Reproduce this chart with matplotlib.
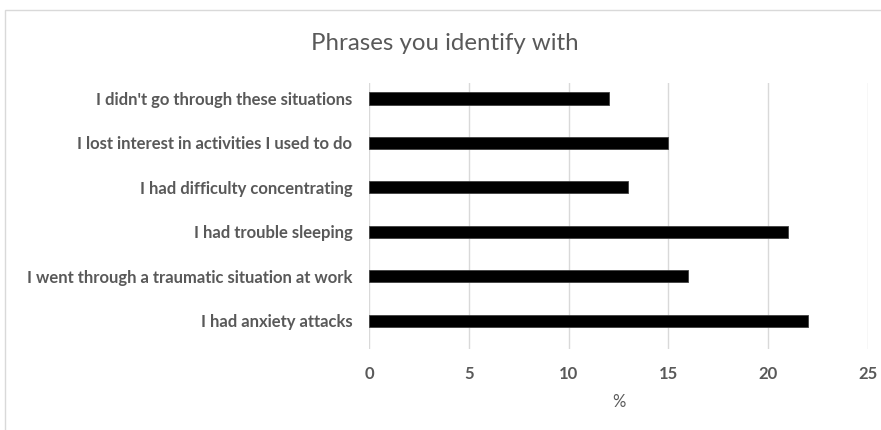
import matplotlib
matplotlib.use("Agg")
import matplotlib.pyplot as plt
from matplotlib.patches import Rectangle

categories = [
    "I had anxiety attacks",
    "I went through a traumatic situation at work",
    "I had trouble sleeping",
    "I had difficulty concentrating",
    "I lost interest in activities I used to do",
    "I didn't go through these situations",
]
values = [22, 16, 21, 13, 15, 12]
xticks = [0, 5, 10, 15, 20, 25]

W, H = 881, 430
fig = plt.figure(figsize=(W / 100, H / 100), dpi=100)
fig.patch.set_facecolor("white")

# chart frame
fig.patches.append(Rectangle((5 / W, -0.05), 1.1, (H - 10) / H + 0.05,
                             transform=fig.transFigure, fill=False,
                             edgecolor="#d9d9d9", linewidth=1.0))

left, right = 369 / W, 868 / W
top, bottom = 1 - 82.7 / H, 1 - 349 / H
ax = fig.add_axes([left, bottom, right - left, top - bottom])

ypos = list(range(len(categories)))
ax.barh(ypos, values, height=0.27, color="black", edgecolor="#404040",
        linewidth=0.6, zorder=3)
ax.set_xlim(0, 25)
ax.set_ylim(-0.63, 5.355)
ax.set_xticks(xticks)
ax.set_xticklabels([str(t) for t in xticks])
ax.set_yticks(ypos)
ax.set_yticklabels(categories)
ax.grid(axis="x", color="#d9d9d9", linewidth=1.0, zorder=0)
for s in ax.spines.values():
    s.set_visible(False)
ax.tick_params(axis="both", length=0)
ax.tick_params(axis="y", pad=12)
ax.tick_params(axis="x", pad=12)
for lbl in ax.get_yticklabels():
    lbl.set_fontfamily("Lato")
    lbl.set_fontweight("bold")
    lbl.set_color("#595959")
    lbl.set_fontsize(12)
for lbl in ax.get_xticklabels():
    lbl.set_fontfamily("Lato")
    lbl.set_fontweight("bold")
    lbl.set_color("#595959")
    lbl.set_fontsize(12)
ax.set_xlabel("%", fontsize=12, color="#595959", family="Lato", labelpad=9)

fig.text(445 / W, 1 - 43 / H, "Phrases you identify with", ha="center",
         va="center", fontsize=17.3, color="#595959", family="Lato")

fig.savefig("out.png", dpi=100)
